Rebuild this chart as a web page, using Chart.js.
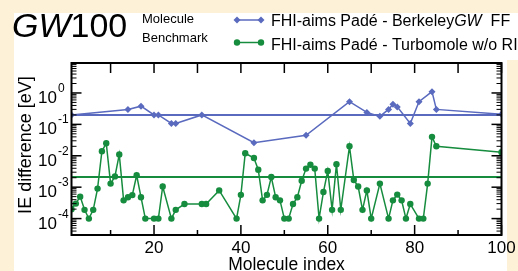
<!DOCTYPE html>
<html>
<head>
<meta charset="utf-8">
<script src="https://cdn.jsdelivr.net/npm/chart.js@4.4.1/dist/chart.umd.min.js"></script>
<style>
  html, body { margin: 0; padding: 0; background: #fdf2d8; }
  canvas { display: block; }
</style>
</head>
<body>
<canvas id="gwChart" width="518" height="271"></canvas>
<script>
// molecule index -> IE difference [eV]
const berkeleyIdx = [1, 14, 17, 20, 21, 24, 25, 31, 43, 55, 65, 69, 72, 74, 75, 76, 79, 81, 84, 85, 100];
const berkeleyVals = [0.2, 0.30, 0.38, 0.20, 0.20, 0.107, 0.107, 0.20, 0.026, 0.045, 0.53, 0.24, 0.18, 0.30, 0.44, 0.36, 0.107, 0.53, 1.1, 0.30, 0.21];

const turboIdx = [1, 2, 3, 4, 5, 6, 7, 8, 9, 10, 11, 12, 13, 14, 15, 16, 17, 18, 20, 21, 22, 24, 25, 27, 31, 32, 35,
    39, 40, 41, 43, 44, 45, 46, 47, 48, 49, 50, 51, 52, 53, 54, 55, 56, 57, 58, 59, 60, 61, 62, 63, 65, 66, 67, 68,
    69, 70, 72, 74, 75, 76, 77, 78, 79, 81, 82, 83, 84, 85, 100];
const turboVals = [2.0e-4, 3.0e-4, 5.0e-4, 1.9e-4, 1.0e-4, 1.9e-4, 9e-4, 0.014, 0.025, 1.3e-3, 2.2e-3, 0.011, 3.8e-4,
    4.8e-4, 5.6e-4, 2.4e-3, 4.8e-4, 1e-4, 1e-4, 1e-4, 1.05e-3, 1e-4, 1.9e-4, 2.9e-4, 2.9e-4, 2.9e-4, 7.9e-4,
    1e-4, 5.7e-4, 0.012, 0.0085, 3.6e-3, 3.8e-4, 5.7e-4, 2.1e-3, 4.8e-4, 3.8e-4, 1e-4, 1e-4, 2.9e-4, 4.8e-4,
    1.6e-3, 3.9e-3, 5.2e-3, 3.9e-3, 1e-4, 7e-4, 3.3e-3, 1.9e-4, 5.4e-3, 1.9e-4, 0.020, 1.7e-3, 1.05e-3, 1.9e-4,
    7.9e-4, 1e-4, 1.3e-3, 1e-4, 3.8e-4, 5.8e-4, 3.8e-4, 1e-4, 2.9e-4, 1e-4, 1e-4, 1.3e-3, 0.040, 0.020, 0.013];

// mean absolute deviations (horizontal lines)
const berkeleyMean = 0.2;
const turboMean = 0.0021;

const xTicks = [10, 20, 30, 40, 50, 60, 70, 80, 90, 100];
const xTickLabels = ['20', '40', '60', '80', '100'];
const yDecades = [-4, -3, -2, -1, 0];

const BLUE = 'rgb(90,106,190)';
const GREEN = 'rgb(22,140,62)';
const FONT = "'Liberation Sans', Arial, Helvetica, sans-serif";

function seg(ctx, x, y, text, font) {
    ctx.font = font;
    ctx.fillText(text, x, y);
    return x + ctx.measureText(text).width;
}

const paperBg = {
    id: 'paperBg',
    beforeDraw(chart) {
        const ctx = chart.ctx;
        ctx.save();
        ctx.fillStyle = '#fdf2d8';
        ctx.fillRect(0, 0, chart.width, chart.height);
        ctx.fillStyle = '#ffffff';
        ctx.fillRect(14, 13, chart.width - 14, 47);
        ctx.fillRect(14, 60, 493, chart.height - 60);
        ctx.restore();
    }
};

const frameAxes = {
    id: 'frameAxes',
    afterDraw(chart) {
        const ctx = chart.ctx;
        const a = chart.chartArea;
        const xs = chart.scales.x;
        const ys = chart.scales.y;
        ctx.save();
        ctx.strokeStyle = '#000';
        ctx.fillStyle = '#000';

        function tick(x1, y1, x2, y2) {
            ctx.beginPath();
            ctx.moveTo(x1, y1);
            ctx.lineTo(x2, y2);
            ctx.stroke();
        }

        // x ticks, inward
        ctx.lineWidth = 1.5;
        xTicks.forEach(v => {
            const px = xs.getPixelForValue(v);
            const major = v % 20 === 0;
            tick(px, a.bottom, px, a.bottom - (major ? 10 : 5));
            tick(px, a.top, px, a.top + 10);
        });

        // y ticks, inward, both sides
        for (let k = -5; k <= 1; k++) {
            for (let m = 1; m <= 9; m++) {
                const v = m * Math.pow(10, k);
                if (v < ys.min || v > ys.max) continue;
                const py = ys.getPixelForValue(v);
                const len = m === 1 ? 10 : 5;
                ctx.lineWidth = m === 1 ? 1.5 : 1;
                tick(a.left, py, a.left + len, py);
                tick(a.right, py, a.right - len, py);
            }
        }

        ctx.lineWidth = 2;
        ctx.strokeRect(a.left, a.top, a.right - a.left, a.bottom - a.top);

        // x tick labels
        ctx.font = '17px ' + FONT;
        ctx.textAlign = 'center';
        ctx.textBaseline = 'alphabetic';
        xTickLabels.forEach(t => {
            ctx.fillText(t, xs.getPixelForValue(+t), a.bottom + 18);
        });

        // y tick labels 10^k
        ctx.textAlign = 'left';
        yDecades.forEach(k => {
            const py = ys.getPixelForValue(Math.pow(10, k));
            const nx = seg(ctx, 38, py + 10, '10', '17px ' + FONT);
            seg(ctx, nx + 1, py - 1, String(k).replace('-', '-'), '12px ' + FONT);
        });

        // axis titles
        ctx.font = '17.5px ' + FONT;
        ctx.textAlign = 'center';
        ctx.fillText('Molecule index', (a.left + a.right) / 2, 270);

        ctx.save();
        ctx.translate(30.5, 145);
        ctx.rotate(-Math.PI / 2);
        ctx.font = '18px ' + FONT;
        ctx.fillText('IE difference [eV]', 0, 0);
        ctx.restore();

        ctx.restore();
    }
};

const headerLegend = {
    id: 'headerLegend',
    afterDraw(chart) {
        const ctx = chart.ctx;
        ctx.save();
        ctx.fillStyle = '#000';
        ctx.textAlign = 'left';
        ctx.textBaseline = 'alphabetic';

        let x = seg(ctx, 12, 37, 'GW', 'italic 34px ' + FONT);
        seg(ctx, x, 37, '100', '34px ' + FONT);
        seg(ctx, 142, 23, 'Molecule', '13px ' + FONT);
        seg(ctx, 142, 42, 'Benchmark', '13px ' + FONT);

        function sample(y, color, marker) {
            ctx.strokeStyle = color;
            ctx.fillStyle = color;
            ctx.lineWidth = 1.5;
            ctx.beginPath();
            ctx.moveTo(237, y);
            ctx.lineTo(261, y);
            ctx.stroke();
            [237, 261].forEach(mx => {
                ctx.beginPath();
                if (marker === 'diamond') {
                    ctx.moveTo(mx, y - 3.5);
                    ctx.lineTo(mx + 3.5, y);
                    ctx.lineTo(mx, y + 3.5);
                    ctx.lineTo(mx - 3.5, y);
                    ctx.closePath();
                } else {
                    ctx.arc(mx, y, 3.2, 0, Math.PI * 2);
                }
                ctx.fill();
            });
            ctx.fillStyle = '#000';
        }

        sample(20, BLUE, 'diamond');
        x = seg(ctx, 271, 26, 'FHI-aims Padé - Berkeley', '16px ' + FONT);
        x = seg(ctx, x, 26, 'GW', 'italic 16px ' + FONT);
        seg(ctx, x, 26, '  FF', '16px ' + FONT);

        sample(42.5, GREEN, 'circle');
        seg(ctx, 271, 49.5, 'FHI-aims Padé - Turbomole w/o RI', '16px ' + FONT);

        ctx.restore();
    }
};

const canvas = document.getElementById('gwChart');
new Chart(canvas.getContext('2d'), {
    type: 'line',
    data: {
        datasets: [
            {
                label: 'FHI-aims Padé - BerkeleyGW FF',
                data: berkeleyIdx.map((m, i) => ({ x: m, y: berkeleyVals[i] })),
                borderColor: BLUE,
                backgroundColor: BLUE,
                borderWidth: 1.5,
                pointStyle: 'rectRot',
                pointRadius: 3.5,
                pointBorderWidth: 0,
                tension: 0,
                order: 2
            },
            {
                label: 'BerkeleyGW mean',
                data: [{ x: 1, y: berkeleyMean }, { x: 100, y: berkeleyMean }],
                borderColor: BLUE,
                borderWidth: 2,
                pointRadius: 0,
                order: 3
            },
            {
                label: 'FHI-aims Padé - Turbomole w/o RI',
                data: turboIdx.map((m, i) => ({ x: m, y: turboVals[i] })),
                borderColor: GREEN,
                backgroundColor: GREEN,
                borderWidth: 1.5,
                pointStyle: 'circle',
                pointRadius: 3.2,
                pointBorderWidth: 0,
                tension: 0,
                order: 1
            },
            {
                label: 'Turbomole mean',
                data: [{ x: 1, y: turboMean }, { x: 100, y: turboMean }],
                borderColor: GREEN,
                borderWidth: 2,
                pointRadius: 0,
                order: 4
            }
        ]
    },
    options: {
        responsive: false,
        animation: false,
        layout: { padding: { left: 71.5, right: 16.5, top: 63, bottom: 36 } },
        plugins: {
            legend: { display: false },
            tooltip: { enabled: false }
        },
        scales: {
            x: { type: 'linear', min: 1, max: 100, display: false },
            y: { type: 'logarithmic', min: 3e-5, max: 9, display: false }
        }
    },
    plugins: [paperBg, frameAxes, headerLegend]
});
</script>
</body>
</html>
